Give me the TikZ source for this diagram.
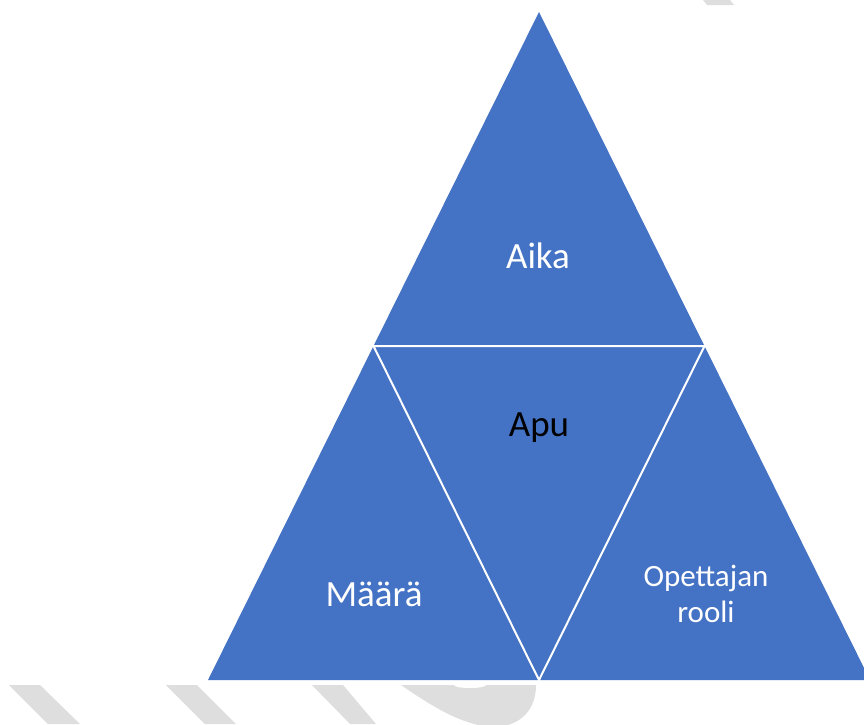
\documentclass[tikz,border=0pt]{standalone}
\usepackage{fontspec}
\setmainfont{Carlito}
\usepackage{tikz}
\usetikzlibrary{shapes, arrows}
\usetikzlibrary{positioning}
\definecolor{triblue}{HTML}{4472C4}
\definecolor{wmgray}{HTML}{DEDEDE}
\tikzset{
  lbl/.style={text=white, font=\fontsize{37}{44}\selectfont},
  smalllbl/.style={text=white, align=center, font=\fontsize{31}{36}\selectfont},
  sepline/.style={draw=white, line width=2pt},
}

\begin{document}
\begin{tikzpicture}[x=1pt,y=-1pt]
\useasboundingbox (0,0) rectangle (864,724);
\clip (0,0) rectangle (864,724);
\fill[white] (0,0) rectangle (864,724);

% watermark bits
\fill[wmgray] (703,0) -- (730,0) -- (734,5) -- (707,5) -- cycle;
\fill[wmgray] (9,685) -- (40,685) -- (80,724) -- (48,724) -- cycle;
\fill[wmgray] (166,685) -- (197,685) -- (236,724) -- (205,724) -- cycle;
\fill[wmgray] (312,685) -- (343,685) -- (376,724) -- (350,724) -- cycle;
\fill[wmgray] (401,685) .. controls (430,705) and (460,724) .. (490,727)
  .. controls (520,728) and (536,710) .. (536,685) -- cycle;
\fill[white] (470,685) ellipse (16 and 3);

\coordinate (top) at (539,12);
\coordinate (bl) at (208,680);
\coordinate (br) at (870,680);
\coordinate (ml) at (373.5,346);
\coordinate (mr) at (704.5,346);
\coordinate (mb) at (539,680);

\fill[triblue] (top) -- (bl) -- (br) -- cycle;
\draw[sepline] (ml) -- (mr) -- (mb) -- cycle;

\node[lbl, anchor=base] (aika) at (538,268) {Aika};
\node[lbl, anchor=base, text=black] (apu) at (539,436) {Apu};
\node[lbl, anchor=base] (maara) at (374,606) {Määrä};
\node[smalllbl, anchor=center] (rooli) at (706,594) {Opettajan\\rooli};

\end{tikzpicture}
\end{document}
